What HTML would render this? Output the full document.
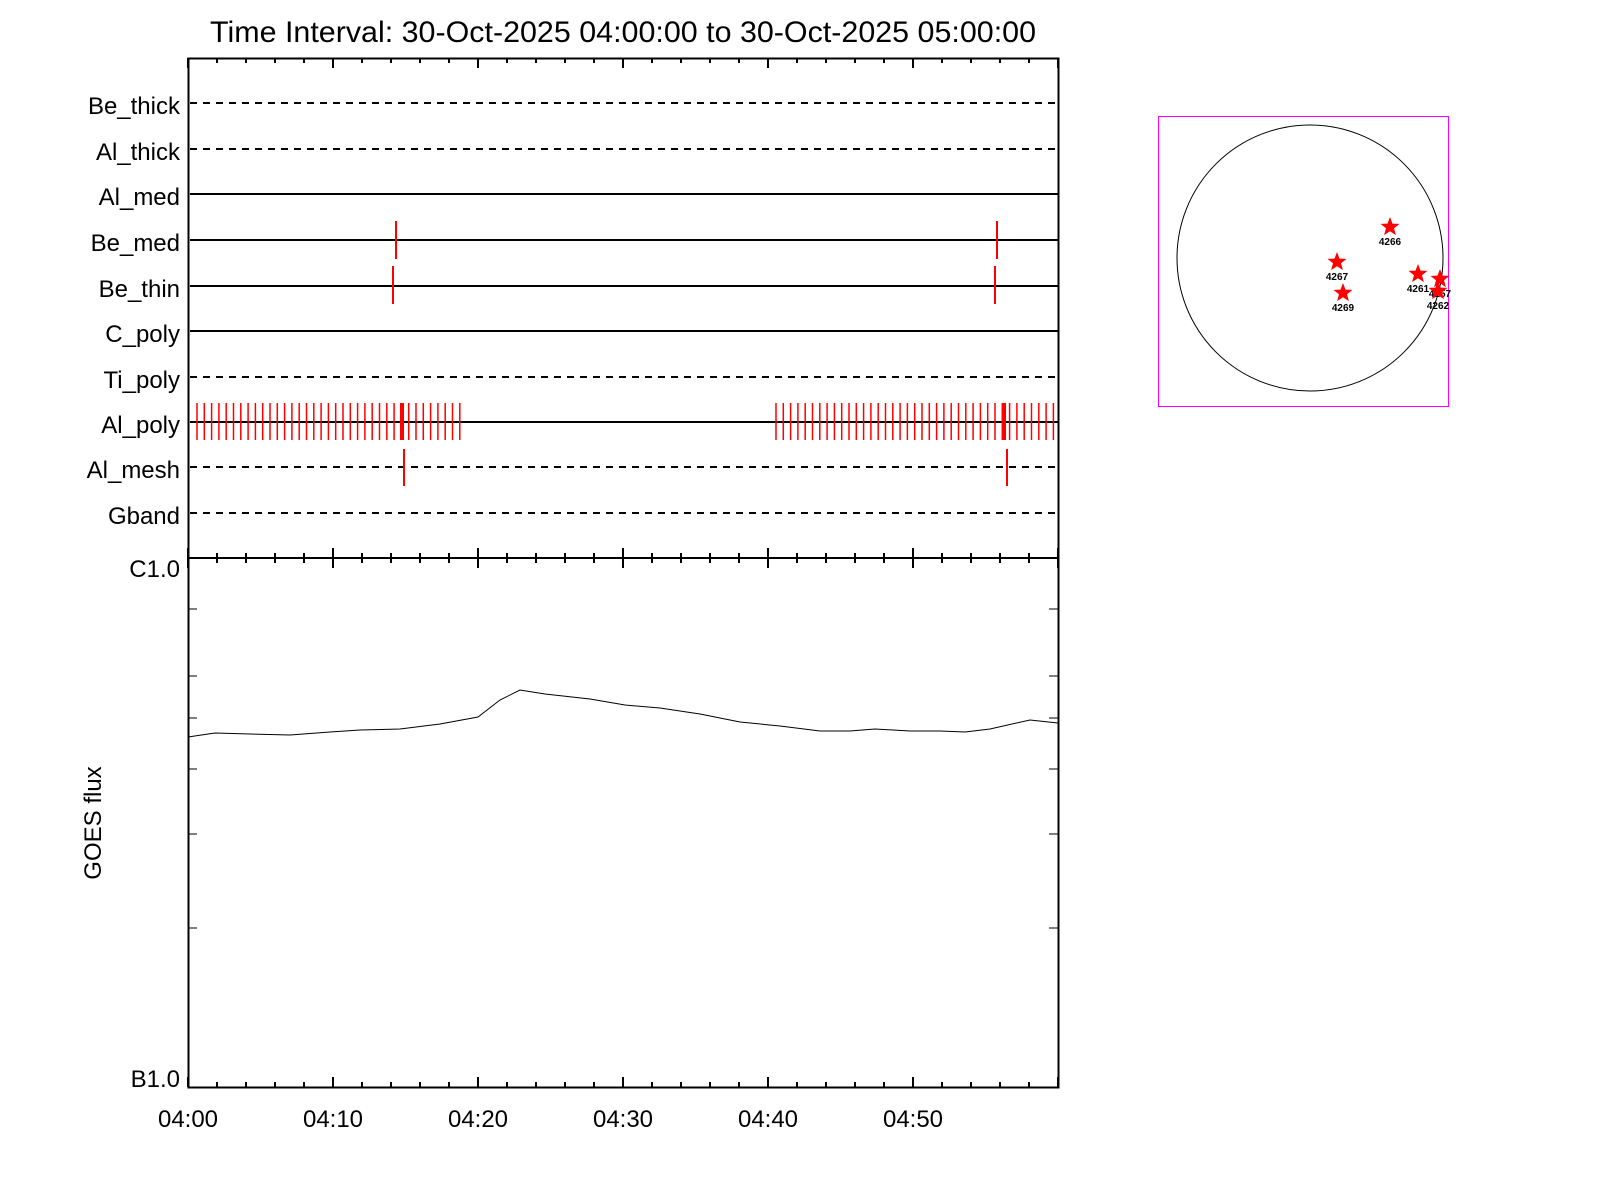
<!DOCTYPE html>
<html><head><meta charset="utf-8"><style>body{margin:0;background:#fff}svg{display:block}text{font-family:"Liberation Sans",sans-serif}</style></head>
<body>
<svg id="s" width="1600" height="1200" xmlns="http://www.w3.org/2000/svg">
<rect width="1600" height="1200" fill="#fff"/>
<text x="623" y="42" font-size="30" text-anchor="middle" textLength="826" lengthAdjust="spacingAndGlyphs">Time Interval: 30-Oct-2025 04:00:00 to 30-Oct-2025 05:00:00</text>
<g id="g" stroke="#000" fill="none"></g>
<g font-size="24" text-anchor="end">
<text x="180" y="114">Be_thick</text>
<text x="180" y="160">Al_thick</text>
<text x="180" y="205">Al_med</text>
<text x="180" y="251">Be_med</text>
<text x="180" y="297">Be_thin</text>
<text x="180" y="342">C_poly</text>
<text x="180" y="388">Ti_poly</text>
<text x="180" y="433">Al_poly</text>
<text x="180" y="478">Al_mesh</text>
<text x="180" y="524">Gband</text>
<text x="180" y="577">C1.0</text>
<text x="180" y="1087">B1.0</text>
</g>
<g font-size="24" text-anchor="middle">
<text x="188" y="1127">04:00</text><text x="333" y="1127">04:10</text><text x="478" y="1127">04:20</text>
<text x="623" y="1127">04:30</text><text x="768" y="1127">04:40</text><text x="913" y="1127">04:50</text>
</g>
<text transform="translate(101,823) rotate(-90)" font-size="24" text-anchor="middle">GOES flux</text>
<polyline fill="none" stroke="#000" stroke-width="1" points="188,737 215,733 250,734 290,735 330,732 360,730 400,729 440,724 478,717 500,700 520,690 545,694 590,699 625,705 660,708 700,714 740,722 780,726 820,731 850,731 875,729 910,731 940,731 965,732 990,729 1030,720 1058,723"/>
<rect x="1158.5" y="116.5" width="290" height="290" fill="none" stroke="#f0f" stroke-width="1"/>
<circle cx="1310" cy="258" r="133" fill="none" stroke="#000" stroke-width="1"/>
<g id="st" font-size="10" text-anchor="middle" font-weight="bold"></g>
</svg>
<script>
const g=document.getElementById('g');let h='';
const L=(x1,y1,x2,y2,w,c,d)=>h+=`<line x1="${x1}" y1="${y1}" x2="${x2}" y2="${y2}" stroke="${c||'#000'}" stroke-width="${w||1}" ${d?'stroke-dasharray="'+d+'"':''}/>`;
h+='<rect x="188.5" y="58.5" width="870" height="1029" stroke-width="2"/>';
L(188,558,1058,558,2);
const rows=[[103,1],[149,1],[194,0],[240,0],[286,0],[331,0],[377,1],[422,0],[467,1],[513,1]];
rows.forEach(r=>L(190,r[0],1058,r[0],2,'#000',r[1]?'7,6':null));
for(let m=0;m<=60;m+=2){const x=188+m*14.5;const big=m%10==0;const t=big?10:5;
 L(x,58,x,58+t,2);L(x,558-t,x,558+t,2);L(x,1087,x,1087-t,2);}
[609,676,718,769,834,928].forEach(y=>{L(188,y,197,y,1);L(1049,y,1058,y,1);});
const red=(x,y1,y2,w)=>L(x,y1,x,y2,w||1.5,'#f00');
red(396,221,259,2);red(997,221,259,2);red(393,266,304,2);red(995,266,304,2);
red(404,449,486,2);red(1007,449,486,2);
for(let x=197;x<=461;x+=7.3)red(x,403,440);
red(402,403,440,4);
for(let x=776;x<=1056;x+=7.3)red(x,403,440);
red(1004,403,440,4);
g.innerHTML=h;
const st=document.getElementById('st');let s='';
const star=(cx,cy,r)=>{let p=[];for(let i=0;i<10;i++){const a=-Math.PI/2+i*Math.PI/5;const rr=i%2?r*0.42:r;p.push((cx+rr*Math.cos(a)).toFixed(1)+','+(cy+rr*Math.sin(a)).toFixed(1));}return `<polygon points="${p.join(' ')}" fill="#f00"/>`;};
[[1390,227,'4266'],[1337,262,'4267'],[1343,293,'4269'],[1418,274,'4261'],[1440,279,'4257'],[1438,291,'4262']].forEach(a=>{s+=star(a[0],a[1],10);s+=`<text x="${a[0]}" y="${a[1]+18}">${a[2]}</text>`;});
st.innerHTML=s;
</script>
</body></html>
